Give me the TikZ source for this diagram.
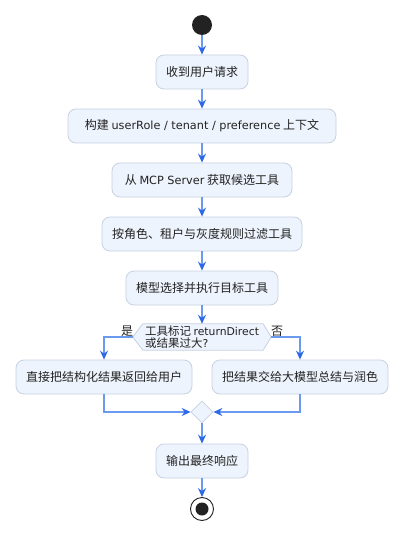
\documentclass[tikz,border=0pt]{standalone}
\usepackage{fontspec}
\setmainfont{Noto Sans CJK SC}
\newfontfamily\latf[Scale=0.94]{DejaVu Sans}
\usetikzlibrary{arrows.meta,calc,shapes.geometric,backgrounds}
\definecolor{boxfill}{HTML}{EEF4FD}
\definecolor{boxline}{HTML}{C6D1E2}
\definecolor{arrline}{HTML}{6B99F0}
\definecolor{arrhead}{HTML}{2C68E8}
\definecolor{dotc}{HTML}{222222}
\definecolor{txt}{HTML}{222222}
\tikzset{
  actbox/.style={draw=boxline, fill=boxfill, line width=0.8pt, rounded corners=8pt,
    minimum height=34pt, inner xsep=10pt, font=\fontsize{12pt}{14pt}\selectfont, text=txt},
  flow/.style={draw=arrline, line width=1.3pt, -{Stealth[length=9pt,width=8pt,inset=3pt,color=arrhead]}},
  lbl/.style={font=\fontsize{12pt}{14pt}\selectfont, text=txt, inner sep=0pt}
}
\begin{document}
\begin{tikzpicture}[x=1pt,y=-1pt]
\useasboundingbox (0,0) rectangle (408,540);
\node[circle, fill=dotc, minimum size=20pt, inner sep=0pt] (start) at (202,25) {};
\node[actbox, minimum width=268pt] (b2) at (202,126) {构建 {\latf userRole / tenant / preference} 上下文};
\node[actbox, minimum width=92pt] (b1) at (202,72) {收到用户请求};
\node[actbox, minimum width=180pt] (b3) at (202,180) {从 {\latf MCP Server} 获取候选工具};
\node[actbox, minimum width=200pt] (b4) at (202,234) {按角色、租户与灰度规则过滤工具};
\node[actbox, minimum width=152pt] (b5) at (202,288) {模型选择并执行目标工具};
\node[minimum width=138pt, minimum height=26pt, inner sep=0pt, align=left,
      font=\fontsize{11.5pt}{12pt}\selectfont, text=txt] (dec) at (202,337) {工具标记 {\latf returnDirect}\\或结果过大{\latf ?}};
\begin{scope}[on background layer]
\draw[draw=boxline, fill=boxfill, line width=0.8pt]
  (dec.west) -- ($(dec.north west)+(10,0)$) -- ($(dec.north east)+(-8,0)$) -- (dec.east)
  -- ($(dec.south east)+(-8,0)$) -- ($(dec.south west)+(10,0)$) -- cycle;
\end{scope}
\node[lbl] (yes) at (127,331) {是};
\node[lbl] (no) at (277,331) {否};
\node[actbox, minimum width=176pt] (b6) at (104,377) {直接把结构化结果返回给用户};
\node[actbox, minimum width=176pt] (b7) at (300,377) {把结果交给大模型总结与润色};
\node[draw=boxline, fill=boxfill, line width=0.8pt, minimum size=22pt, inner sep=0pt,
      shape=diamond] (merge) at (202,412) {};
\node[actbox, minimum width=92pt] (b8) at (202,461) {输出最终响应};
\node[circle, draw=dotc, line width=0.9pt, fill=white, minimum size=23pt, inner sep=0pt] (endo) at (202,509) {};
\node[circle, fill=dotc, minimum size=13pt, inner sep=0pt] (endi) at (endo.center) {};

\draw[flow] (start) -- (b1);
\draw[flow] (b1) -- (b2);
\draw[flow] (b2) -- (b3);
\draw[flow] (b3) -- (b4);
\draw[flow] (b4) -- (b5);
\draw[flow] (b5) -- (dec.north);
\draw[flow] (dec.west) -| (b6.north);
\draw[flow] (dec.east) -| (b7.north);
\draw[flow] (b6.south) |- (merge.west);
\draw[flow] (b7.south) |- (merge.east);
\draw[flow] (merge) -- (b8);
\draw[flow] (b8) -- (endo);
\end{tikzpicture}
\end{document}
